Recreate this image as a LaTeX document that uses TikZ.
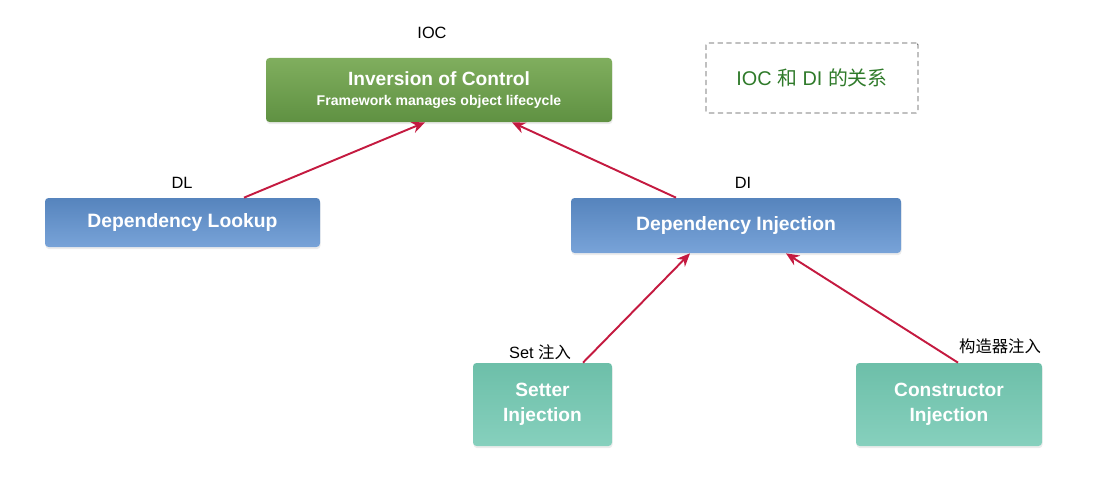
\documentclass[tikz,border=0pt]{standalone}
\usepackage{fontspec}
\setmainfont{Liberation Sans}
\newfontfamily\cjk{Noto Sans CJK SC}
\usepackage{xcolor}
\usepackage{tikz}
\usetikzlibrary{arrows.meta,positioning,calc,shadows}

\definecolor{iocgreenA}{HTML}{80AE5E}
\definecolor{iocgreenB}{HTML}{5F9142}
\definecolor{depblueA}{HTML}{5684BD}
\definecolor{depblueB}{HTML}{78A3D8}
\definecolor{injtealA}{HTML}{6DBFA9}
\definecolor{injtealB}{HTML}{86D0BD}
\definecolor{linkred}{HTML}{C41A40}
\definecolor{notegreen}{HTML}{2F7A2A}

\begin{document}
\begin{tikzpicture}[
    box/.style={rounded corners=2pt, inner sep=0pt, align=center,
        text=white, font=\bfseries, drop shadow={opacity=0.15, shadow xshift=0.3pt, shadow yshift=-1.2pt}},
    iocbox/.style={box, top color=iocgreenA, bottom color=iocgreenB},
    depbox/.style={box, top color=depblueA, bottom color=depblueB, font=\bfseries\fontsize{11}{13}\selectfont},
    injbox/.style={box, top color=injtealA, bottom color=injtealB, font=\bfseries\fontsize{10.9}{14.5}\selectfont},
    tag/.style={font=\fontsize{9.3}{10}\selectfont},
    link/.style={draw=linkred, line width=1.1pt, -{Stealth[length=7.5pt,width=6.5pt]}}
]
\useasboundingbox (0,0) rectangle (22.2,9.72);

% main boxes
\node[iocbox, minimum width=6.92cm, minimum height=1.28cm] (ioc) at (8.78,7.92)
    {{\fontsize{10.9}{13}\selectfont Inversion of Control}\\[-0.5pt]{\fontsize{8}{9}\selectfont Framework manages object lifecycle}};
\node[depbox, minimum width=5.5cm, minimum height=0.98cm] (dl) at (3.65,5.27) {Dependency Lookup};
\node[depbox, minimum width=6.6cm, minimum height=1.1cm] (di) at (14.72,5.21) {Dependency Injection};
\node[injbox, minimum width=2.78cm, minimum height=1.66cm] (setter) at (10.85,1.63) {Setter\\Injection};
\node[injbox, minimum width=3.72cm, minimum height=1.66cm] (ctor) at (18.98,1.63) {Constructor\\Injection};

% note
\node[draw=black!70, dash pattern=on 3pt off 2pt, rounded corners=1pt, minimum width=4.24cm, minimum height=1.4cm,
    text=notegreen, font=\fontsize{11.3}{13}\selectfont] (note) at (16.24,8.16) {IOC {\cjk 和} DI {\cjk 的关系}};

% tags
\node[tag] (iocTag) at (8.64,9.06) {IOC};
\node[tag] (dlTag) at (3.64,6.06) {DL};
\node[tag] (diTag) at (14.86,6.06) {DI};
\node[tag] (setTag) at (10.8,2.68) {Set {\cjk 注入}};
\node[tag] (ctorTag) at (20.0,2.8) {\cjk 构造器注入};

% links
\draw[link] ([xshift=1.23cm]dl.north) -- ([xshift=-0.28cm]ioc.south);
\draw[link] ([xshift=-1.2cm]di.north) -- ([xshift=1.46cm]ioc.south);
\draw[link] ([xshift=0.81cm]setter.north) -- ([xshift=-0.92cm]di.south);
\draw[link] ([xshift=0.18cm]ctor.north) -- ([xshift=1.0cm]di.south);
\end{tikzpicture}
\end{document}
